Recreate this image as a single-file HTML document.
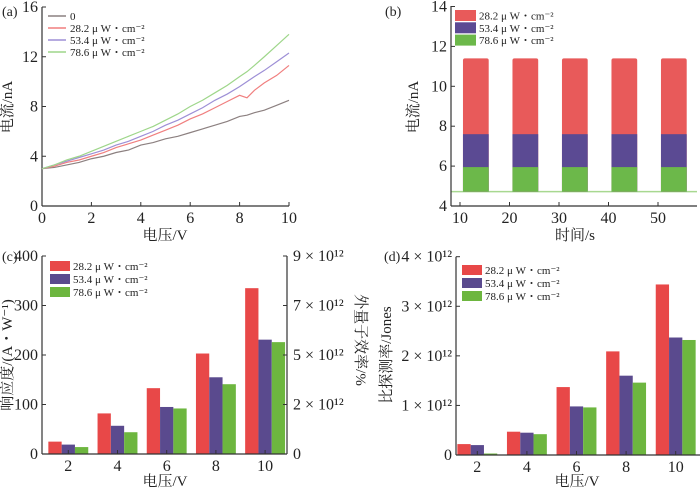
<!DOCTYPE html>
<html><head><meta charset="utf-8"><style>
body{margin:0;background:#fff}
svg{display:block}
text{font-family:"Liberation Serif","Noto Serif CJK SC",serif;fill:#222}
.t{font-size:16px}
.cn{font-family:"Liberation Serif","Noto Serif CJK SC","Noto Sans CJK SC",serif;font-size:15px}
.lg{font-size:11px}
</style></head><body>
<svg id="s" width="700" height="490" xmlns="http://www.w3.org/2000/svg"></svg>
<script>
// ---- data ----
const ivVolt=[0,0.5,1,1.5,2,2.5,3,3.5,4,4.5,5,5.5,6,6.5,7,7.5,8,8.3,8.6,9,9.5,10];
const ivDark=[3.0,3.1,3.3,3.5,3.8,4.0,4.3,4.5,4.9,5.1,5.4,5.6,5.9,6.2,6.5,6.8,7.2,7.3,7.5,7.7,8.1,8.5];
const iv28=[3.0,3.2,3.5,3.7,4.0,4.3,4.7,5.0,5.3,5.7,6.1,6.5,7.0,7.4,7.9,8.4,8.9,8.7,9.3,9.9,10.5,11.3];
const iv53=[3.0,3.3,3.6,3.9,4.2,4.5,4.9,5.2,5.6,6.0,6.5,6.9,7.4,7.9,8.5,9.0,9.6,10.0,10.4,10.9,11.6,12.3];
const iv78=[3.0,3.3,3.7,4.0,4.4,4.8,5.2,5.6,6.0,6.4,6.9,7.4,8.0,8.5,9.1,9.7,10.4,10.8,11.3,12.0,12.9,13.8];
const pulseStart=[10.6,20.6,30.6,40.6,50.6];
const pulseWidth=5.2;
const pulseBase=4.72;
const pulseTop28=11.4, pulseTop53=7.6, pulseTop78=5.95;
const cats=[2,4,6,8,10];
const resp28=[25,82,133,203,335];
const resp53=[19,57,95,155,231];
const resp78=[14,44,92,141,226];
const det28=[0.22,0.47,1.37,2.09,3.44];
const det53=[0.20,0.45,0.98,1.60,2.37];
const det78=[0.03,0.42,0.96,1.46,2.32];
const eqeTicks=["0","2 × 10¹²","5 × 10¹²","7 × 10¹²","9 × 10¹²"];
const detTicks=["0","1 × 10¹²","2 × 10¹²","3 × 10¹²","4 × 10¹²"];
const legendLabels=["28.2 μ W・cm⁻²","53.4 μ W・cm⁻²","78.6 μ W・cm⁻²"];

const S=document.getElementById('s');const NS='http://www.w3.org/2000/svg';
function el(tag,attrs,txt,parent){const e=document.createElementNS(NS,tag);for(const k in attrs)e.setAttribute(k,attrs[k]);if(txt!=null)e.textContent=txt;(parent||S).appendChild(e);return e;}
function lin(d0,d1,r0,r1){return v=>r0+(v-d0)/(d1-d0)*(r1-r0);}
function axisLines(x0,x1,y0,y1,right){
  const a=el('line',{x1:x0,y1:y0,x2:x0,y2:y1,stroke:'#333','stroke-width':1.2});
  
  const b=el('line',{x1:x0,y1:y0,x2:x1,y2:y0,stroke:'#333','stroke-width':1.2});
  
  if(right){const c=el('line',{x1:x1,y1:y0,x2:x1,y2:y1,stroke:'#333','stroke-width':1.2});
  }
}
function ytick(x,y,label,anchorRight){
  el('line',{x1:x,y1:y,x2:x+(anchorRight?-4:4),y2:y,stroke:'#333'});
  const t=el('text',{x:anchorRight?x+6:x-4,y:y+5,'text-anchor':anchorRight?'start':'end',class:'t'},label);
  
}
function xtick(x,y,label){
  el('line',{x1:x,y1:y,x2:x,y2:y-4,stroke:'#333'});
  const t=el('text',{x:x,y:y+17,'text-anchor':'middle',class:'t'},label);
  
}
function title(x,y,txt,rot,name){
  const t=el('text',{x:x,y:y,'text-anchor':'middle',class:'cn',transform:rot?`rotate(${rot} ${x} ${y})`:''},txt);
  
}
function plabel(x,y,txt){const t=el('text',{x:x,y:y,class:'t',style:'font-size:14px'},txt);}

// ---- panel a ----
{const X=lin(0,10,42,289),Y=lin(0,16,206,7);
axisLines(42,289,206,7);
[0,4,8,12,16].forEach(v=>ytick(42,Y(v),String(v)));
[0,2,4,6,8,10].forEach(v=>xtick(X(v),206,String(v)));
const series=[[ivDark,'#8c8080','0'],[iv28,'#f07f7f',legendLabels[0]],[iv53,'#9d8fd6',legendLabels[1]],[iv78,'#9ed68a',legendLabels[2]]];
series.forEach((s,i)=>{
  const p=el('polyline',{points:ivVolt.map((v,j)=>X(v)+','+Y(s[0][j])).join(' '),fill:'none',stroke:s[1],'stroke-width':1.2});
  
  const ly=16+i*12;
  const l=el('line',{x1:48,y1:ly,x2:66,y2:ly,stroke:s[1],'stroke-width':1.5});
  
  const t=el('text',{x:70,y:ly+4,class:'lg'},s[2]);
  
});
title(12,107,'电流/nA',-90,'y-axis-title');title(165,240,'电压/V',0,'x-axis-title');plabel(2,16,'(a)');}

// ---- panel b ----
{const X=lin(10,50,460,658),Y=lin(4,14,206,6.5);
const cols=['#e85a5a','#5b4a93','#6cb84a'],tops=[pulseTop28,pulseTop53,pulseTop78];
const bl=el('line',{x1:X(8.2),y1:Y(pulseBase),x2:697,y2:Y(pulseBase),stroke:'#a8d890','stroke-width':1.5});

pulseStart.forEach(t0=>{tops.forEach((tp,i)=>{
  const r=el('rect',{x:X(t0),y:Y(tp),width:X(t0+pulseWidth)-X(t0),height:Y(pulseBase)-Y(tp),fill:cols[i],rx:i==0?2:0});
  });});
axisLines(451,697,206,6);
[4,6,8,10,12,14].forEach(v=>ytick(451,Y(v),String(v)));
[10,20,30,40,50].forEach(v=>xtick(X(v),206,String(v)));
legendLabels.forEach((lb,i)=>{const y=10+i*12.3;
  const r=el('rect',{x:455,y:y,width:21,height:11,fill:cols[i]});
  const t=el('text',{x:479,y:y+9.5,class:'lg'},lb);});
title(418,107,'电流/nA',-90,'y-axis-title');title(575,240,'时间/s',0,'x-axis-title');plabel(385,16,'(b)');}

// ---- bar panels ----
const bcols=['#e84848','#5a4a8e','#6db63f'];
function bars(x0,x1,y0,y1,max,cx0,dx,series,legX,legY){
  const Y=lin(0,max,y0,y1),X=i=>cx0+i*dx,bw=13.3;
  series.forEach((s,k)=>s.forEach((v,i)=>{
    const r=el('rect',{x:X(i)+(k-1)*bw-bw/2,y:Y(v),width:bw,height:y0-Y(v),fill:bcols[k]});
    }));
  legendLabels.forEach((lb,i)=>{const y=legY+i*13;
    const r=el('rect',{x:legX,y:y,width:20,height:10,fill:bcols[i]});
    const t=el('text',{x:legX+23,y:y+9,class:'lg'},lb);});
  cats.forEach((c,i)=>xtick(X(i),y0,String(c)));
  return Y;
}
// panel c
{const Y=bars(42,287,454,256,400,68.3,49.2,[resp28,resp53,resp78],50,261);
axisLines(42,287,454,256,true);
[0,100,200,300,400].forEach(v=>ytick(42,Y(v),String(v)));
[0,100,200,300,400].forEach((v,i)=>ytick(287,Y(v),eqeTicks[i],true));
title(12,355,'响应度/(A・W⁻¹)',-90,'y-axis-title');title(356,340,'外量子效率/%',90,'right-axis-title');
title(165,486,'电压/V',0,'x-axis-title');plabel(2,261,'(c)');}
// panel d
{const Y=bars(456,700,455,256.7,4,477.3,49.6,[det28,det53,det78],462,265);
axisLines(456,700,455,256.7);
[0,1,2,3,4].forEach((v,i)=>ytick(456,Y(v),detTicks[i]));
title(391,355,'比探测率/Jones',-90,'y-axis-title');title(577,486,'电压/V',0,'x-axis-title');plabel(384,261,'(d)');}
</script>
</body></html>
